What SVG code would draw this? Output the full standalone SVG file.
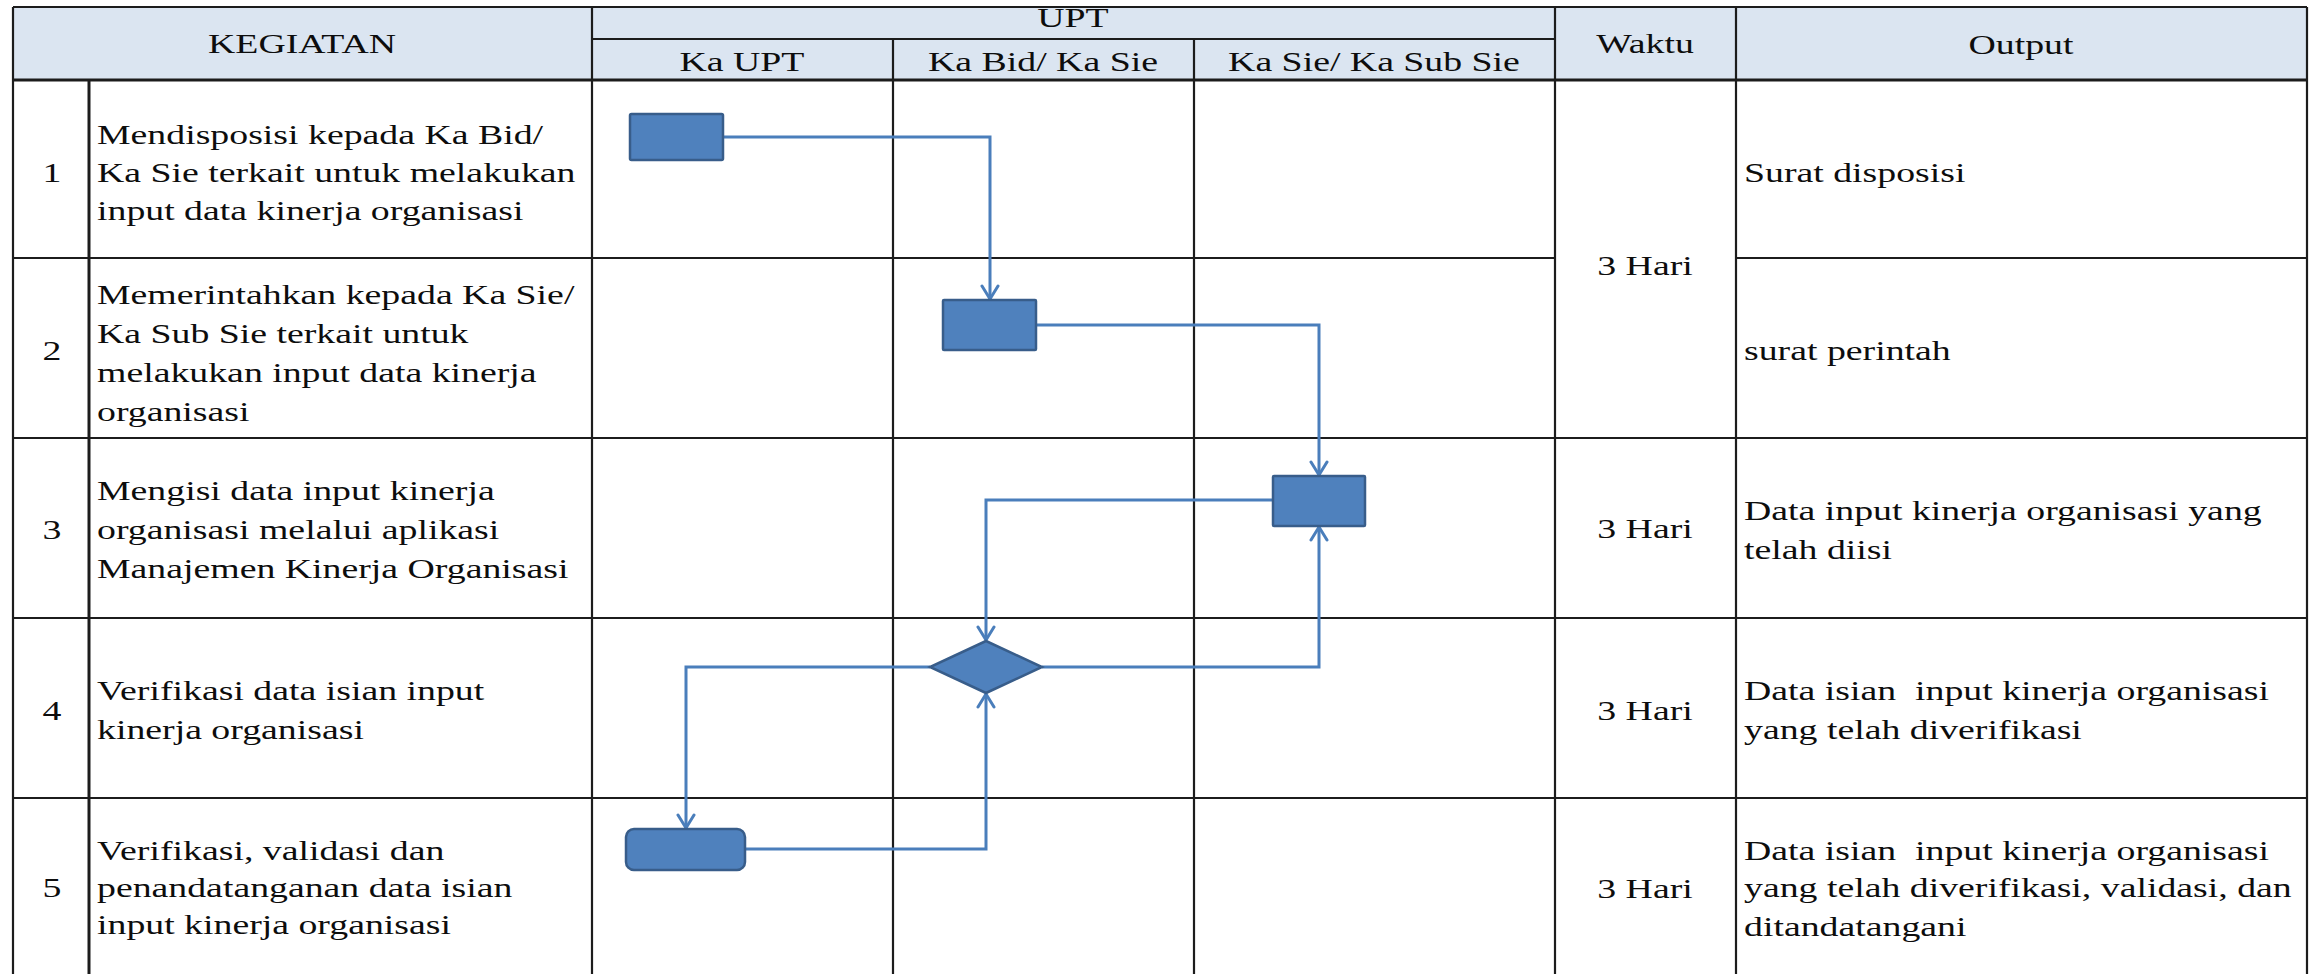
<svg xmlns="http://www.w3.org/2000/svg" width="2321" height="974" viewBox="0 0 2321 974">
<style>
.t{font-family:"Liberation Serif","Times New Roman",serif;font-size:28px;fill:#0d0d0d}
.c{text-anchor:middle}
.g{stroke:#1c1c1c;stroke-width:2.2;fill:none}
.gt{stroke:#1c1c1c;stroke-width:3;fill:none}
.box{fill:#4f81bd;stroke:#385d8a;stroke-width:2.5}
.con{fill:none;stroke:#4a7ebb;stroke-width:3;stroke-linejoin:miter}
</style>
<defs>
<marker id="arr" markerUnits="userSpaceOnUse" viewBox="-16 -10 18 20" refX="0" refY="0" markerWidth="18" markerHeight="20" orient="auto">
<path d="M-13,-8 L0,0 L-13,8" fill="none" stroke="#4a7ebb" stroke-width="3" stroke-linecap="round" stroke-linejoin="round"/>
</marker>
</defs>
<rect width="2321" height="974" fill="#ffffff"/>
<g id="table">
<rect x="13" y="7" width="2294" height="73" fill="#dbe5f1"/>
<line class="g" x1="13" y1="7" x2="2307" y2="7" stroke="#555"/>
<line class="g" x1="592" y1="39" x2="1555" y2="39"/>
<line class="gt" x1="13" y1="80" x2="2307" y2="80"/>
<line class="g" x1="13" y1="258" x2="1555" y2="258"/>
<line class="g" x1="1736" y1="258" x2="2307" y2="258"/>
<line class="g" x1="13" y1="438" x2="2307" y2="438"/>
<line class="g" x1="13" y1="618" x2="2307" y2="618"/>
<line class="g" x1="13" y1="798" x2="2307" y2="798"/>
<line class="g" x1="13" y1="7" x2="13" y2="974"/>
<line class="gt" x1="89" y1="80" x2="89" y2="974"/>
<line class="g" x1="592" y1="7" x2="592" y2="974"/>
<line class="g" x1="893" y1="39" x2="893" y2="974"/>
<line class="g" x1="1194" y1="39" x2="1194" y2="974"/>
<line class="g" x1="1555" y1="7" x2="1555" y2="974"/>
<line class="g" x1="1736" y1="7" x2="1736" y2="974"/>
<line class="g" x1="2307" y1="7" x2="2307" y2="974"/>
</g>
<g id="header">
<text class="t c" transform="translate(302,53) scale(1.35,1)">KEGIATAN</text>
<text class="t c" transform="translate(1073,27) scale(1.35,1)">UPT</text>
<text class="t c" transform="translate(742,71) scale(1.35,1)">Ka UPT</text>
<text class="t c" transform="translate(1043,71) scale(1.35,1)">Ka Bid/ Ka Sie</text>
<text class="t c" transform="translate(1374,71) scale(1.35,1)">Ka Sie/ Ka Sub Sie</text>
<text class="t c" transform="translate(1645,53) scale(1.35,1)">Waktu</text>
<text class="t c" transform="translate(2021,54) scale(1.35,1)">Output</text>
</g>
<g id="row1">
<text class="t c" transform="translate(52,182) scale(1.35,1)">1</text>
<text class="t" transform="translate(97,144) scale(1.35,1)">Mendisposisi kepada Ka Bid/</text>
<text class="t" transform="translate(97,182) scale(1.35,1)">Ka Sie terkait untuk melakukan</text>
<text class="t" transform="translate(97,220) scale(1.35,1)">input data kinerja organisasi</text>
<text class="t c" transform="translate(1645,275) scale(1.35,1)">3 Hari</text>
<text class="t" transform="translate(1744,182) scale(1.35,1)">Surat disposisi</text>
</g>
<g id="row2">
<text class="t c" transform="translate(52,360) scale(1.35,1)">2</text>
<text class="t" transform="translate(97,304) scale(1.35,1)">Memerintahkan kepada Ka Sie/</text>
<text class="t" transform="translate(97,343) scale(1.35,1)">Ka Sub Sie terkait untuk</text>
<text class="t" transform="translate(97,382) scale(1.35,1)">melakukan input data kinerja</text>
<text class="t" transform="translate(97,421) scale(1.35,1)">organisasi</text>
<text class="t" transform="translate(1744,360) scale(1.35,1)">surat perintah</text>
</g>
<g id="row3">
<text class="t c" transform="translate(52,539) scale(1.35,1)">3</text>
<text class="t" transform="translate(97,500) scale(1.35,1)">Mengisi data input kinerja</text>
<text class="t" transform="translate(97,539) scale(1.35,1)">organisasi melalui aplikasi</text>
<text class="t" transform="translate(97,578) scale(1.35,1)">Manajemen Kinerja Organisasi</text>
<text class="t c" transform="translate(1645,538) scale(1.35,1)">3 Hari</text>
<text class="t" transform="translate(1744,520) scale(1.35,1)">Data input kinerja organisasi yang</text>
<text class="t" transform="translate(1744,559) scale(1.35,1)">telah diisi</text>
</g>
<g id="row4">
<text class="t c" transform="translate(52,720) scale(1.35,1)">4</text>
<text class="t" transform="translate(97,700) scale(1.35,1)">Verifikasi data isian input</text>
<text class="t" transform="translate(97,739) scale(1.35,1)">kinerja organisasi</text>
<text class="t c" transform="translate(1645,720) scale(1.35,1)">3 Hari</text>
<text class="t" transform="translate(1744,700) scale(1.35,1)">Data isian&#160; input kinerja organisasi</text>
<text class="t" transform="translate(1744,739) scale(1.35,1)">yang telah diverifikasi</text>
</g>
<g id="row5">
<text class="t c" transform="translate(52,897) scale(1.35,1)">5</text>
<text class="t" transform="translate(97,860) scale(1.35,1)">Verifikasi, validasi dan</text>
<text class="t" transform="translate(97,897) scale(1.35,1)">penandatanganan data isian</text>
<text class="t" transform="translate(97,934) scale(1.35,1)">input kinerja organisasi</text>
<text class="t c" transform="translate(1645,898) scale(1.35,1)">3 Hari</text>
<text class="t" transform="translate(1744,860) scale(1.35,1)">Data isian&#160; input kinerja organisasi</text>
<text class="t" transform="translate(1744,897) scale(1.35,1)">yang telah diverifikasi, validasi, dan</text>
<text class="t" transform="translate(1744,936) scale(1.35,1)">ditandatangani</text>
</g>
<g id="connectors">
<path class="con" d="M723,137 H990 V299" marker-end="url(#arr)"/>
<path class="con" d="M1036,325 H1319 V475" marker-end="url(#arr)"/>
<path class="con" d="M1273,500 H986 V640" marker-end="url(#arr)"/>
<path class="con" d="M1042,667 H1319 V527" marker-end="url(#arr)"/>
<path class="con" d="M930,667 H686 V828" marker-end="url(#arr)"/>
<path class="con" d="M745,849 H986 V694" marker-end="url(#arr)"/>
</g>
<g id="n1"><rect class="box" x="630" y="114" width="93" height="46" rx="1.5"/></g>
<g id="n2"><rect class="box" x="943" y="300" width="93" height="50" rx="1"/></g>
<g id="n3"><rect class="box" x="1273" y="476" width="92" height="50" rx="1"/></g>
<g id="n4"><polygon class="box" points="986,641 1042,667 986,693 930,667"/></g>
<g id="n5"><rect class="box" x="626" y="829" width="119" height="41" rx="8"/></g>
</svg>
